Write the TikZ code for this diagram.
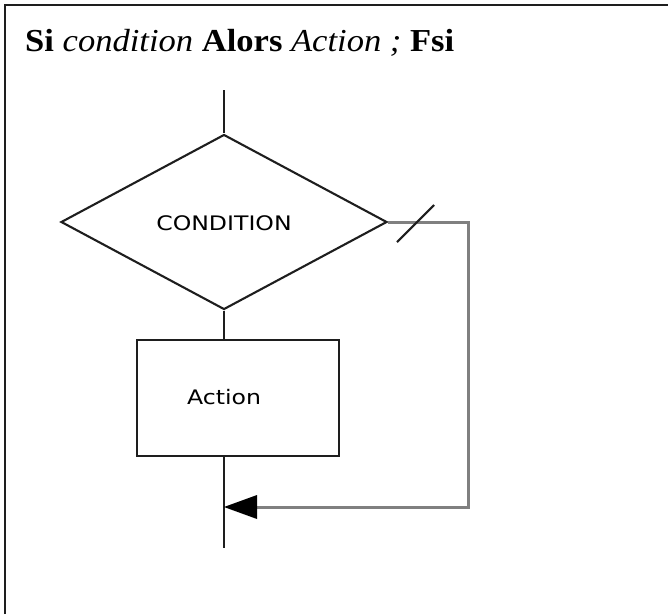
\documentclass[tikz,border=0pt]{standalone}
\usepackage{fontspec}
\setmainfont{Liberation Serif}[FakeStretch=1.08]
\newfontfamily\flowfont[FakeStretch=1.18]{DejaVu Sans}
\usetikzlibrary{shapes.geometric}
\definecolor{inkgray}{HTML}{1E1E1E}
\definecolor{loopgray}{HTML}{808080}
\tikzset{
  frameline/.style={draw=inkgray, line width=2.4pt},
  flowline/.style={draw=inkgray, line width=2.1pt},
  backline/.style={draw=loopgray, line width=3pt},
  flowtext/.style={font=\flowfont\fontsize{20}{22}\selectfont, text=black},
  actionbox/.style={flowline, rectangle, minimum width=202pt, minimum height=116pt, inner sep=0pt},
  testbox/.style={flowline, diamond, minimum width=326pt, minimum height=175pt, inner sep=0pt, aspect=1.86},
}
\begin{document}
\begin{tikzpicture}[x=1pt, y=-1pt]
  \useasboundingbox (0,0) rectangle (668,614);
  % frame (top and left sides)
  \draw[frameline] (5,614) -- (5,5) -- (668,5);
  % heading
  \node[anchor=base west, inner sep=0pt, font=\fontsize{32}{35}\selectfont] (title) at (25,51)
    {\textbf{Si} \textit{condition} \textbf{Alors} \textit{Action ;} \textbf{Fsi}};
  % flowchart
  \coordinate (entry) at (224,90);
  \node[testbox] (cond) at (224,222) {};
  \node[flowtext] (condlabel) at (224,223) {CONDITION};
  \node[actionbox] (act) at (238,398) {};
  \node[flowtext] (actlabel) at (224,397) {Action};
  \coordinate (join) at (224,507);
  \coordinate (exit) at (224,548);
  \coordinate (loop) at (468,507);
  \draw[flowline] (entry) -- (cond.north);
  \draw[flowline] (cond.south) -- (cond.south |- act.north);
  \draw[flowline] (cond.south |- act.south) -- (exit);
  % bypass branch
  \draw[backline, line join=miter] (cond.east) -| (loop) -- ([xshift=30pt]join);
  \fill[black] (join) -- ++(33,-12) -- ++(0,24) -- cycle;
  \draw[flowline] (397,242) -- (434,205);
\end{tikzpicture}
\end{document}
